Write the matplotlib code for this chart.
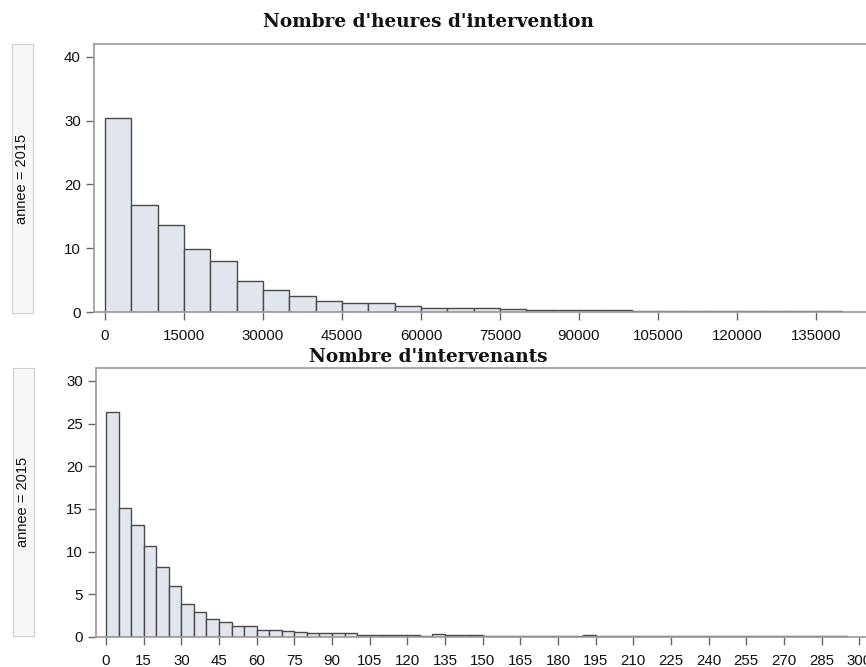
import matplotlib.pyplot as plt
import numpy as np

# Nombre d'heures d'intervention : classes de 5000 heures
heures_bins = np.arange(0, 140000, 5000)
heures_pct = [30.4, 16.8, 13.7, 9.9, 8.0, 4.9, 3.5, 2.5, 1.7, 1.4,
              1.4, 0.9, 0.7, 0.7, 0.6, 0.4, 0.35, 0.3, 0.3, 0.25,
              0.2, 0.2, 0.15, 0.15, 0.15, 0.1, 0.15, 0.15]

# Nombre d'intervenants : classes de 5
interv_bins = np.arange(0, 295, 5)
interv_pct = [26.3, 15.1, 13.1, 10.6, 8.2, 5.95, 3.9, 2.9, 2.15, 1.75,
              1.25, 1.25, 0.87, 0.87, 0.67, 0.6, 0.47, 0.47, 0.47, 0.47,
              0.25, 0.25, 0.2, 0.2, 0.2, 0.15, 0.3, 0.25, 0.2, 0.2,
              0.15, 0.15, 0.15, 0.15, 0.15, 0.15, 0.15, 0.15, 0.2, 0.15,
              0.1, 0.1, 0.1, 0.1, 0.1, 0.1, 0.1, 0.1, 0.1, 0.1,
              0.1, 0.1, 0.1, 0.1, 0.1, 0.1, 0.1, 0.1, 0.1]

heures_ticks = np.arange(0, 150000, 15000)
interv_ticks = np.arange(0, 315, 15)
label_annee = "annee = 2015"

fill = "#e0e5ee"
edge = "#4a4a4a"
spine = "#9a9a9a"

fig = plt.figure(figsize=(8.66, 6.67), dpi=100)

def panel(rect, bins, width, vals, ticks, xlim, ylim, yticks, titre, ty, box):
    ax = fig.add_axes(rect)
    ax.bar(bins, vals, width=width, align="edge", color=fill,
           edgecolor=edge, linewidth=1.0)
    ax.set_xlim(*xlim)
    ax.set_ylim(*ylim)
    ax.set_xticks(ticks)
    ax.set_yticks(yticks)
    ax.tick_params(axis="both", colors="#666666", labelcolor="#111111",
                   labelsize=10.8, length=6, width=1)
    ax.tick_params(axis="x", pad=6)
    for lab in ax.get_xticklabels() + ax.get_yticklabels():
        lab.set_family("Liberation Sans")
    ax.spines["right"].set_visible(False)
    for s in ("left", "top", "bottom"):
        ax.spines[s].set_color(spine)
        ax.spines[s].set_linewidth(1.2)
    fig.text(0.495, ty, titre, ha="center", va="center",
             family="DejaVu Serif", weight="bold", fontsize=13.3,
             color="#111111")
    bx = fig.add_axes(box)
    bx.set_xticks([])
    bx.set_yticks([])
    bx.set_facecolor("#f7f7f9")
    for s in bx.spines.values():
        s.set_color("#cfcfcf")
    bx.text(0.5, 0.5, label_annee, rotation=90, ha="center", va="center",
            transform=bx.transAxes, family="Liberation Sans", fontsize=10.5,
            color="#111111")
    return ax

panel([94 / 866, 1 - 312 / 667, 1 - 94 / 866, (312 - 44) / 667],
      heures_bins, 5000, heures_pct, heures_ticks, (-2090, 144500), (0, 42),
      [0, 10, 20, 30, 40], "Nombre d'heures d'intervention", 1 - 22 / 667,
      [12 / 866, 1 - 313 / 667, 21 / 866, (313 - 44) / 667])

panel([96 / 866, 1 - 637 / 667, 1 - 96 / 866, (637 - 368) / 667],
      interv_bins, 5, interv_pct, interv_ticks, (-4, 302.7), (0, 31.5),
      [0, 5, 10, 15, 20, 25, 30], "Nombre d'intervenants", 1 - 357 / 667,
      [13 / 866, 1 - 636 / 667, 21 / 866, (636 - 368) / 667])

fig.savefig("out.png", dpi=100)
